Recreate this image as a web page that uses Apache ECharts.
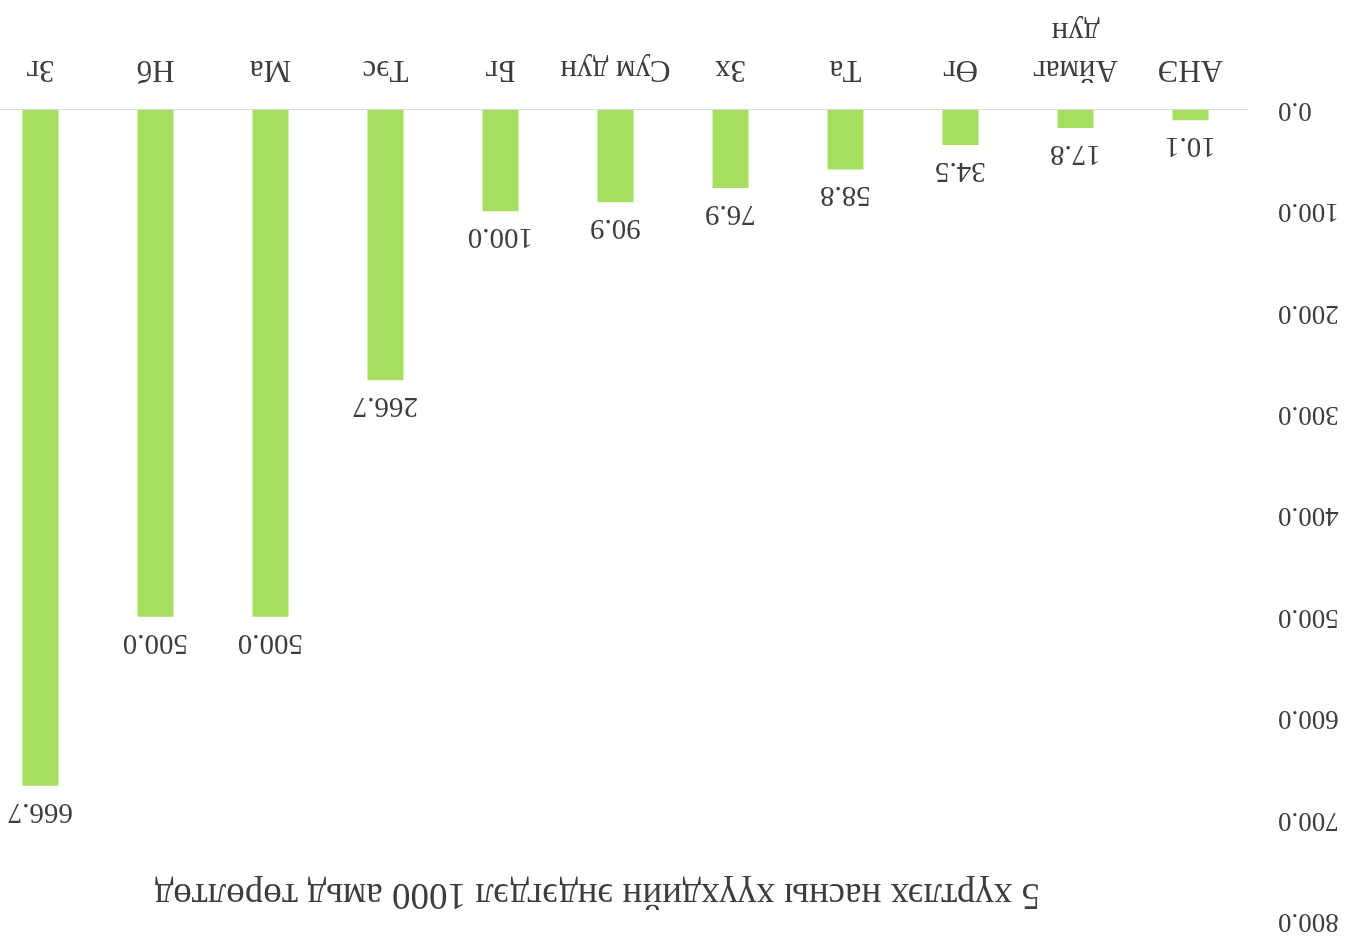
<!DOCTYPE html>
<html>
<head>
<meta charset="utf-8">
<script src="https://cdn.jsdelivr.net/npm/echarts@6/dist/echarts.min.js"></script>
<style>
  html, body { margin: 0; padding: 0; background: #ffffff; overflow: hidden; width: 1353px; height: 943px; }
  #chart { position: absolute; left: -17px; top: 0; width: 1370px; height: 943px; transform: rotate(180deg); transform-origin: 50% 50%; }
</style>
</head>
<body>
<div id="chart"></div>
<script>
const titleText = '5 хүртлэх насны хүүхдийн эндэгдэл 1000 амьд төрөлтөд';
const categories = ['АНЭ', 'Аймаг\nдун', 'Өг', 'Та', 'Зх', 'Сум дун', 'Бг', 'Тэс', 'Ма', 'Нб', 'Зг'];
const values = [10.1, 17.8, 34.5, 58.8, 76.9, 90.9, 100.0, 266.7, 500.0, 500.0, 666.7];
const yMin = 0, yMax = 800, yStep = 100;

const font = '"Liberation Serif", "DejaVu Serif", serif';
const textColor = '#3d3d3d';

const chart = echarts.init(document.getElementById('chart'), null, { renderer: 'canvas' });
chart.setOption({
  backgroundColor: '#ffffff',
  animation: false,
  title: {
    text: titleText,
    left: 308,
    top: 26,
    textStyle: { fontFamily: font, fontSize: 37, fontWeight: 'normal', color: textColor }
  },
  grid: { left: 105, top: 22, bottom: 110, width: 1265, containLabel: false },
  xAxis: {
    type: 'category',
    data: categories,
    axisLine: { show: true, lineStyle: { color: '#d9d9d9', width: 1 } },
    axisTick: { show: false },
    axisLabel: { fontFamily: font, fontSize: 31, color: textColor, margin: 22, lineHeight: 38, interval: 0 }
  },
  yAxis: {
    type: 'value',
    min: yMin, max: yMax, interval: yStep,
    axisLine: { show: false },
    axisTick: { show: false },
    splitLine: { show: false },
    axisLabel: { fontFamily: font, fontSize: 27, color: textColor, margin: 30, formatter: v => v.toFixed(1) }
  },
  series: [{
    type: 'bar',
    data: values,
    barWidth: 36,
    itemStyle: { color: '#a6df5f' },
    label: {
      show: true, position: 'top', distance: 11,
      fontFamily: font, fontSize: 29, color: textColor,
      formatter: p => p.value.toFixed(1)
    }
  }]
});
</script>
</body>
</html>
